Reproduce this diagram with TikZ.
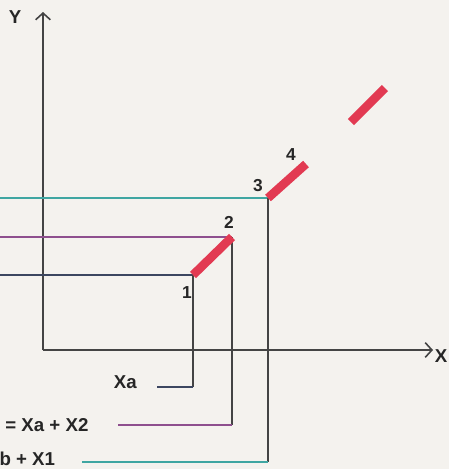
\documentclass[tikz,border=0pt]{standalone}
\usepackage{fontspec}
\setmainfont{Liberation Sans}
\usetikzlibrary{arrows.meta,positioning}
\definecolor{papier}{HTML}{F4F2EE}
\definecolor{rouge}{HTML}{E23A52}
\definecolor{sarcelle}{HTML}{3FA6A2}
\definecolor{violet}{HTML}{8E4F8E}
\definecolor{ardoise}{HTML}{3C4660}
\definecolor{trait}{HTML}{444444}

\begin{document}
\begin{tikzpicture}[x=0.75pt,y=-0.75pt,
  axe/.style={trait,line width=1.2pt},
  proj/.style={line width=1.2pt},
  segment/.style={rouge,line width=6.5pt},
  etiq/.style={font=\fontsize{14}{16}\selectfont\bfseries,text=black!85,inner sep=0pt},
  num/.style={font=\fontsize{13}{15}\selectfont\bfseries,text=black!85,inner sep=0pt}]
  \fill[papier] (0,0) rectangle (449,469);
  \useasboundingbox (0,0) rectangle (449,469);
  \clip (0,0) rectangle (449,469);
  % axes
  \coordinate (O) at (43,350);
  \coordinate (Yend) at (43,12);
  \coordinate (Xend) at (433,350);
  \draw[axe,-{Straight Barb[length=5pt,width=11pt]}] (O) -- (Yend);
  \draw[axe,-{Straight Barb[length=5pt,width=11pt]}] (O) -- (Xend);
  \node[etiq] (labY) at (15,17) {Y};
  \node[etiq] (labX) at (441,356) {X};
  % points of the segment
  \coordinate (P1) at (193,275);
  \coordinate (P2) at (232,237);
  \coordinate (P3) at (268,198);
  \coordinate (P4) at (306,164);
  \coordinate (P5) at (351,122);
  \coordinate (P6) at (385,88);
  \foreach \i/\px/\py/\by/\ex/\col/\txt/\gap/\dy in {1/193/275/387/157/ardoise/Xa/15pt/4pt,
      2/232/237/425/118/violet/{= Xa + X2}/22pt/0pt,
      3/268/198/462/82/sarcelle/{b + X1}/20pt/2.5pt}{
    \coordinate (L\i) at (0,\py);
    \coordinate (B\i) at (\px,\by);
    \coordinate (E\i) at (\ex,\by);
    \draw[proj,\col] (L\i) -- (P\i);
    \draw[proj,trait] (P\i) -- (B\i);
    \draw[proj,\col] (B\i) -- (E\i);
    \node[etiq,left=\gap of E\i,yshift=\dy] (T\i) {\txt};
  }
  \draw[segment] (P1) -- (P2);
  \draw[segment] (P3) -- (P4);
  \draw[segment] (P5) -- (P6);
  \node[num] (n1) at (187,293) {1};
  \node[num] (n2) at (229,222) {2};
  \node[num] (n3) at (258,186) {3};
  \node[num] (n4) at (291,155) {4};
\end{tikzpicture}
\end{document}
